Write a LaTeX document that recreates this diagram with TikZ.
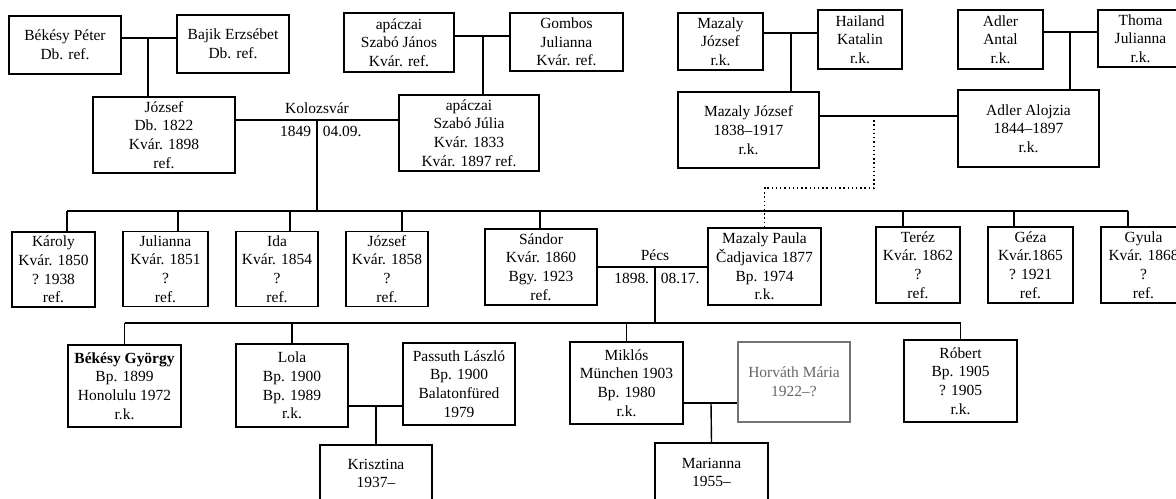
\documentclass[tikz,border=0pt]{standalone}
\usepackage{fontspec}
\setmainfont{Liberation Serif}
\tikzset{
  person/.style={draw,line width=1pt,align=center,inner sep=0pt,
    font=\fontsize{11}{13.3}\selectfont},
  sz/.style 2 args={minimum width=#1*0.025cm,minimum height=#2*0.025cm},
  faint/.style={draw=black!55,text=black!60},
  lbl/.style={inner sep=4pt,font=\fontsize{11}{13.3}\selectfont},
  link/.style={line width=1pt},
}
\begin{document}
\begin{tikzpicture}[x=0.025cm,y=-0.025cm]
\useasboundingbox (0,0) rectangle (1176,499);

% grandparents
\node[person,sz={112}{58}] (peter) at (65,45) {Békésy Péter\\Db. ref.};
\node[person,sz={112}{58}] (bajik) at (233,44) {Bajik Erzsébet\\Db. ref.};
\node[person,sz={110}{59}] (janos) at (399,42.5) {apáczai\\Szabó János\\Kvár. ref.};
\node[person,sz={113}{58}] (gombos) at (566.5,42) {Gombos\\Julianna\\Kvár. ref.};
\node[person,sz={85}{57}] (mazalyA) at (720.5,41.5) {Mazaly\\József\\r.k.};
\node[person,sz={84}{59}] (hailand) at (860,39.5) {Hailand\\Katalin\\r.k.};
\node[person,sz={85}{59}] (antal) at (1000.5,39.5) {Adler\\Antal\\r.k.};
\node[person,sz={85}{57}] (thoma) at (1140.5,38.5) {Thoma\\Julianna\\r.k.};

% parents
\node[person,sz={142}{76}] (jozsef) at (164,135) {József\\Db. 1822\\Kvár. 1898\\ref.};
\node[person,sz={140}{76}] (julia) at (469,133)
    {apáczai\\Szabó Júlia\\Kvár. 1833\\Kvár. 1897 ref.};
\node[person,sz={141}{76}] (mazalyB) at (748.5,130) {Mazaly József\\1838--1917\\r.k.};
\node[person,sz={141}{77}] (alojzia) at (1028.5,128.5) {Adler Alojzia\\1844--1897\\r.k.};

\coordinate (m1) at (148,38);
\draw[link] (peter.east |- m1) -- (bajik.west |- m1);
\draw[link] (m1) -- (m1 |- jozsef.north);
\coordinate (m2) at (483,36);
\draw[link] (janos.east |- m2) -- (gombos.west |- m2);
\draw[link] (m2) -- (m2 |- julia.north);
\coordinate (m3) at (791,33);
\draw[link] (mazalyA.east |- m3) -- (hailand.west |- m3);
\draw[link] (m3) -- (m3 |- mazalyB.north);
\coordinate (m4) at (1070,32);
\draw[link] (antal.east |- m4) -- (thoma.west |- m4);
\draw[link] (m4) -- (m4 |- alojzia.north);

% children of jozsef and julia
\node[person,sz={83}{75}] (karoly) at (53.5,269.5) {Károly\\Kvár. 1850\\? 1938\\ref.};
\node[person,sz={85}{75}] (julianna) at (165.5,269) {Julianna\\Kvár. 1851\\?\\ref.};
\node[person,sz={82}{75}] (ida) at (277,269) {Ida\\Kvár. 1854\\?\\ref.};
\node[person,sz={82}{75}] (jozsefB) at (387,269) {József\\Kvár. 1858\\?\\ref.};
\node[person,sz={112}{76}] (sandor) at (541,267) {Sándor\\Kvár. 1860\\Bgy. 1923\\ref.};
\node[person,sz={113}{77}] (paula) at (764.5,266.5)
    {Mazaly Paula\\Čadjavica 1877\\Bp. 1974\\r.k.};
\node[person,sz={84}{76}] (terez) at (918,265) {Teréz\\Kvár. 1862\\?\\ref.};
\node[person,sz={85}{76}] (geza) at (1030.5,265) {Géza\\Kvár.1865\\? 1921\\ref.};
\node[person,sz={85}{76}] (gyula) at (1143.5,265) {Gyula\\Kvár. 1868\\?\\ref.};

\coordinate (kol) at (317,120);
\draw[link] (jozsef.east |- kol) -- (julia.west |- kol);
\node[lbl,anchor=south] (kolt) at (kol) {Kolozsvár};
\node[lbl,anchor=north east] (koly) at (kol) {1849};
\node[lbl,anchor=north west] (kold) at (kol) {04.09.};
\coordinate (bar1) at (317,211);
\coordinate (b1l) at (67,211);
\coordinate (b1r) at (1128,211);
\draw[link] (kol) -- (bar1);
\draw[link] (b1l) -- (b1r);
\foreach \n/\d in {karoly/13.5,julianna/12.5,ida/13,jozsefB/15,sandor/-1,
                   terez/-15,geza/-16.5,gyula/-15.5}{
  \coordinate (t) at ([xshift=\d*0.025cm]\n.north);
  \draw[link] (t) -- (t |- bar1);
}

\coordinate (mz) at (874,116);
\draw[link] (mazalyB.east |- mz) -- (alojzia.west |- mz);
\coordinate (dt) at (874,188);
\draw[link,dotted] (mz) -- (dt) -- (dt -| paula.north) -- (paula.north);

% grandchildren
\node[person,sz={113}{82}] (gyorgy) at (124.5,386)
    {\bfseries Békésy György\\Bp. 1899\\Honolulu 1972\\r.k.};
\node[person,sz={112}{83}] (lola) at (292,385.5) {Lola\\Bp. 1900\\Bp. 1989\\r.k.};
\node[person,sz={112}{82}] (passuth) at (459,384)
    {Passuth László\\Bp. 1900\\Balatonfüred\\1979};
\node[person,sz={113}{82}] (miklos) at (626.5,383) {Miklós\\München 1903\\Bp. 1980\\r.k.};
\node[person,faint,sz={112}{80}] (horvath) at (794,382) {Horváth Mária\\1922--?};
\node[person,sz={113}{82}] (robert) at (960.5,381) {Róbert\\Bp. 1905\\? 1905\\r.k.};
\node[person,sz={112}{57}] (krisztina) at (376,473.5) {Krisztina\\1937--};
\node[person,sz={113}{59}] (marianna) at (711.5,472.5) {Marianna\\1955--};

\coordinate (pecs) at (655,267);
\draw[link] (sandor.east |- pecs) -- (paula.west |- pecs);
\node[lbl,anchor=south] (pecst) at (pecs) {Pécs};
\node[lbl,anchor=north east] (pecsy) at (pecs) {1898.};
\node[lbl,anchor=north west] (pecsd) at (pecs) {08.17.};
\coordinate (bar2) at (655,323);
\draw[link] (pecs) -- (bar2);
\draw[link] (gyorgy.north |- bar2) -- (robert.north |- bar2);
\foreach \n in {gyorgy,lola,miklos,robert}
  \draw[link] (\n.north) -- (\n.north |- bar2);

\coordinate (lp) at (376,406);
\draw[link] (lola.east |- lp) -- (passuth.west |- lp);
\draw[link] (lp) -- (krisztina.north);
\coordinate (mh) at (711,403);
\draw[link] (miklos.east |- mh) -- (horvath.west |- mh);
\draw[link] (mh) -- (marianna.north);
\end{tikzpicture}
\end{document}
